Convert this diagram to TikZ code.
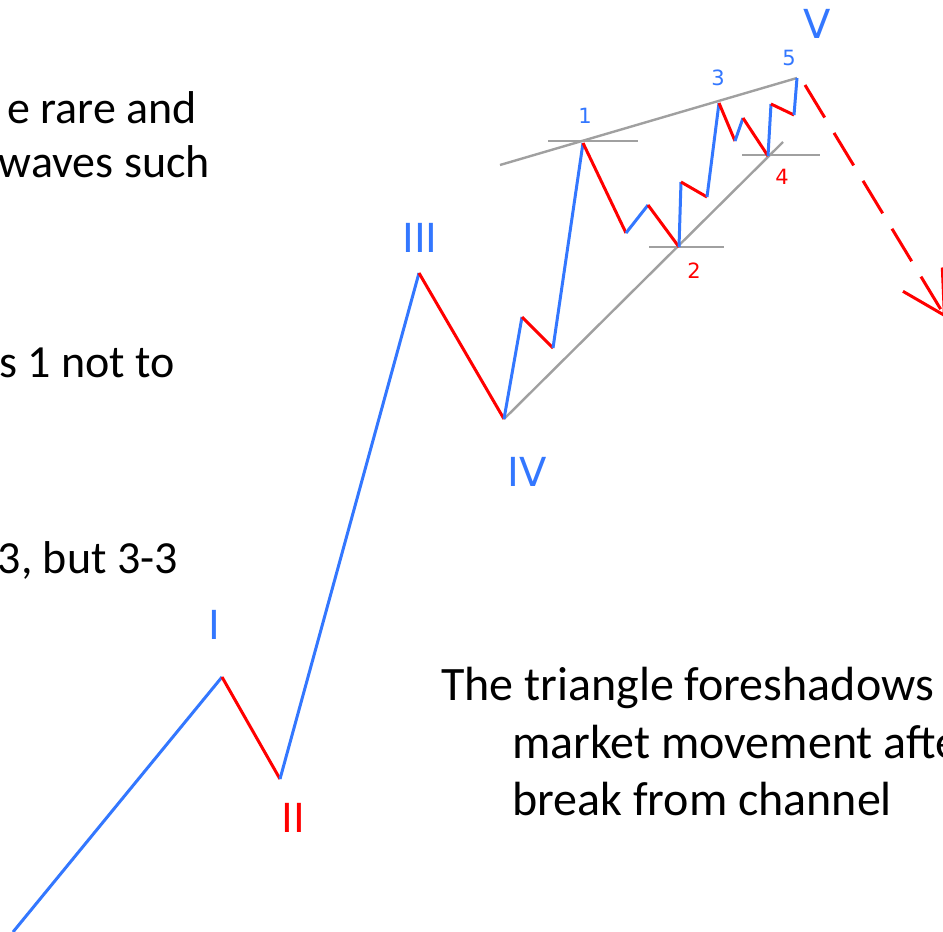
\documentclass[tikz,border=0pt]{standalone}
\usepackage{fontspec}
\setmainfont{Carlito}
\newfontfamily\wavefont{DejaVu Sans}
\usetikzlibrary{arrows.meta}
\definecolor{waveblue}{RGB}{51,119,255}
\definecolor{wavered}{RGB}{255,0,0}
\definecolor{trendgray}{RGB}{160,160,160}

\begin{document}
\begin{tikzpicture}[x=1pt,y=-1pt,
  upwave/.style={draw=waveblue,line width=3pt,line join=round},
  downwave/.style={draw=wavered,line width=3pt,line join=round},
  trend/.style={draw=trendgray,line width=2.4pt},
  biglbl/.style={font=\wavefont\fontsize{40}{44}\selectfont,inner sep=0pt},
  smalllbl/.style={font=\wavefont\fontsize{21}{24}\selectfont,inner sep=0pt},
  sidetxt/.style={font=\fontsize{46}{53}\selectfont,inner sep=0pt,anchor=base east},
  tritxt/.style={font=\fontsize{48}{57}\selectfont,inner sep=0pt,anchor=base west}]
  \useasboundingbox (0,0) rectangle (943,932);
  \clip (0,0) rectangle (943,932);

  % text
  \node[sidetxt] (noteA) at (197,123) {e rare and};
  \node[sidetxt] (noteB) at (210,177) {waves such};
  \node[sidetxt] (noteC) at (175,377) {s 1 not to};
  \node[sidetxt] (noteD) at (178,573) {3, but 3-3};
  \node[tritxt] (triA) at (441,700) {The triangle foreshadows};
  \node[tritxt] (triB) at (512,758) {market movement afte};
  \node[tritxt] (triC) at (512,815) {break from channel};

  % main waves
  \coordinate (w0) at (13,932);
  \coordinate (wI) at (222,677);
  \coordinate (wII) at (280,779);
  \coordinate (wIII) at (419,273);
  \coordinate (wIV) at (504,419);
  \coordinate (wV) at (797,78);
  \draw[upwave] (w0) -- (wI); \draw[downwave] (wI) -- (wII);
  \draw[upwave] (wII) -- (wIII); \draw[downwave] (wIII) -- (wIV);

  % triangle
  \coordinate (a1) at (522,317); \coordinate (a2) at (553,348);
  \coordinate (t1) at (583,143);
  \coordinate (b1) at (626,233); \coordinate (b2) at (648,205);
  \coordinate (t2) at (679,247);
  \coordinate (c1) at (681,182); \coordinate (c2) at (707,197);
  \coordinate (t3) at (719,103);
  \coordinate (d1) at (735,141); \coordinate (d2) at (743,118);
  \coordinate (t4) at (768,156);
  \coordinate (e1) at (771,104); \coordinate (e2) at (794,115);

  \coordinate (up0) at (500,165);
  \coordinate (lo1) at (783,142);
  \draw[trend] (up0) -- (wV);
  \draw[trend] (wIV) -- (lo1);
  \draw[trend] (548,141) -- (638,141);
  \draw[trend] (649,247) -- (724,247);
  \draw[trend] (742,155) -- (820,155);

  \draw[upwave] (wIV) -- (a1); \draw[downwave] (a1) -- (a2); \draw[upwave] (a2) -- (t1);
  \draw[downwave] (t1) -- (b1); \draw[upwave] (b1) -- (b2); \draw[downwave] (b2) -- (t2);
  \draw[upwave] (t2) -- (c1); \draw[downwave] (c1) -- (c2); \draw[upwave] (c2) -- (t3);
  \draw[downwave] (t3) -- (d1); \draw[upwave] (d1) -- (d2); \draw[downwave] (d2) -- (t4);
  \draw[upwave] (t4) -- (e1); \draw[downwave] (e1) -- (e2); \draw[upwave] (e2) -- (wV);

  % break out
  \coordinate (brk0) at (805,85);
  \coordinate (brk1) at (946,318);
  \draw[downwave,dash pattern=on 38pt off 18pt,
    -{Straight Barb[length=42pt,width=46pt]}] (brk0) -- (brk1);

  % labels
  \node[biglbl,text=waveblue] (lblI) at (214,625) {I};
  \node[biglbl,text=wavered] (lblII) at (293,818) {II};
  \node[biglbl,text=waveblue] (lblIII) at (420,238) {III};
  \node[biglbl,text=waveblue] (lblIV) at (527,472) {IV};
  \node[biglbl,text=waveblue] (lblV) at (817,24) {V};
  \node[smalllbl,text=waveblue] (lbl1) at (585,116) {1};
  \node[smalllbl,text=wavered] (lbl2) at (694,271) {2};
  \node[smalllbl,text=waveblue] (lbl3) at (718,78) {3};
  \node[smalllbl,text=wavered] (lbl4) at (782,177) {4};
  \node[smalllbl,text=waveblue] (lbl5) at (789,58) {5};
\end{tikzpicture}
\end{document}
